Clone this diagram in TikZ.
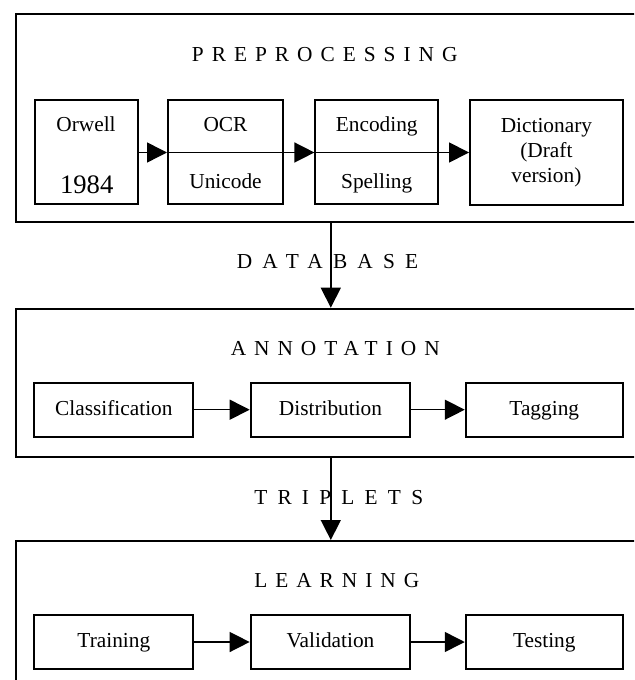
\documentclass[tikz,border=0pt]{standalone}
\usepackage{fontspec}
\setmainfont{Liberation Serif}
\newfontfamily\stagefont[LetterSpace=37.5]{Liberation Serif}
\newfontfamily\flowfont[LetterSpace=48]{Liberation Serif}
\usetikzlibrary{arrows.meta,positioning}
\newlength\pxu
\setlength\pxu{0.75pt}

\begin{document}
\begin{tikzpicture}[
  x=\pxu, y=-\pxu,
  stage/.style={draw, line width=1.5pt, inner sep=0pt, anchor=north west},
  heading/.style={inner sep=0pt, anchor=base west, font=\fontsize{16pt}{19pt}\stagefont},
  linklabel/.style={inner sep=0pt, anchor=base west, font=\fontsize{16pt}{19pt}\flowfont},
  block/.style={draw, line width=1.5pt, inner sep=0pt, minimum width=159\pxu,
    minimum height=54\pxu, font=\fontsize{16pt}{18.75pt}\selectfont,
    text height=11.2pt, text depth=3.2pt},
  tall/.style={draw, line width=1.5pt, inner sep=0pt, align=center,
    minimum height=104\pxu, font=\fontsize{16pt}{18.75pt}\selectfont},
  word/.style={inner sep=0pt, anchor=base, font=\fontsize{16pt}{18.75pt}\selectfont},
  flow/.style={-{Triangle[length=15pt, width=15pt]}, line width=1.1pt}
]
\useasboundingbox (0,0) rectangle (634,680);
\clip (0,0) rectangle (634,680);

% stages
\node[stage, minimum width=640\pxu, minimum height=208\pxu] (prep) at (14.6,13.3) {};
\node[stage, minimum width=640\pxu, minimum height=148\pxu] (annot) at (14.6,307.7) {};
\node[stage, minimum width=640\pxu, minimum height=170\pxu] (learn) at (14.6,540) {};

\node[heading] (preptitle) at (191.7,61.7) {PREPROCESSING};
\node[heading] (annottitle) at (230.5,355) {ANNOTATION};
\node[heading] (learntitle) at (254,587) {LEARNING};
\node[linklabel] (dbtitle) at (236.6,269) {DATABASE};
\node[linklabel] (triptitle) at (254,504) {TRIPLETS};

% preprocessing
\node[tall, minimum width=103\pxu] (orwell) at (86,152.5) {};
\node[tall, minimum width=115\pxu] (ocr) at (225.5,152.5) {};
\node[tall, minimum width=122.6\pxu] (encoding) at (376.7,152.5) {};
\node[tall, minimum width=152.7\pxu, minimum height=105\pxu] (dictionary) at (546.4,152.5)
  {Dictionary\\(Draft\\version)};
\node[word] (orwellname) at (86,132) {Orwell};
\node[word, font=\fontsize{20pt}{24pt}\selectfont] (orwellyear) at (86.7,193.3) {1984};
\node[word] (ocrname) at (225.5,132) {OCR};
\node[word] (unicode) at (225.5,189) {Unicode};
\node[word] (encname) at (376.7,132) {Encoding};
\node[word] (spelling) at (376.7,189) {Spelling};
\draw[flow] (orwell) -- (ocr);
\draw[flow] (ocr.west) -- (encoding.west);
\draw[flow] (encoding.west) -- (dictionary.west);

% annotation
\node[block] (classification) at (113.85,409.7) {Classification};
\node[block, minimum width=159.7\pxu] (distribution) at (330.5,409.7) {Distribution};
\node[block, minimum width=157\pxu] (tagging) at (544.25,409.7) {Tagging};
\draw[flow] (classification) -- (distribution);
\draw[flow] (distribution) -- (tagging);

% learning
\node[block] (training) at (113.85,642) {Training};
\node[block, minimum width=159.7\pxu] (validation) at (330.5,642) {Validation};
\node[block, minimum width=157\pxu] (testing) at (544.25,642) {Testing};
\draw[flow] (training) -- (validation);
\draw[flow] (validation) -- (testing);

% between stages
\coordinate (spine) at (330.8,0);
\draw[flow] (prep.south -| spine) -- (annot.north -| spine);
\draw[flow] (annot.south -| spine) -- (learn.north -| spine);
\end{tikzpicture}
\end{document}
